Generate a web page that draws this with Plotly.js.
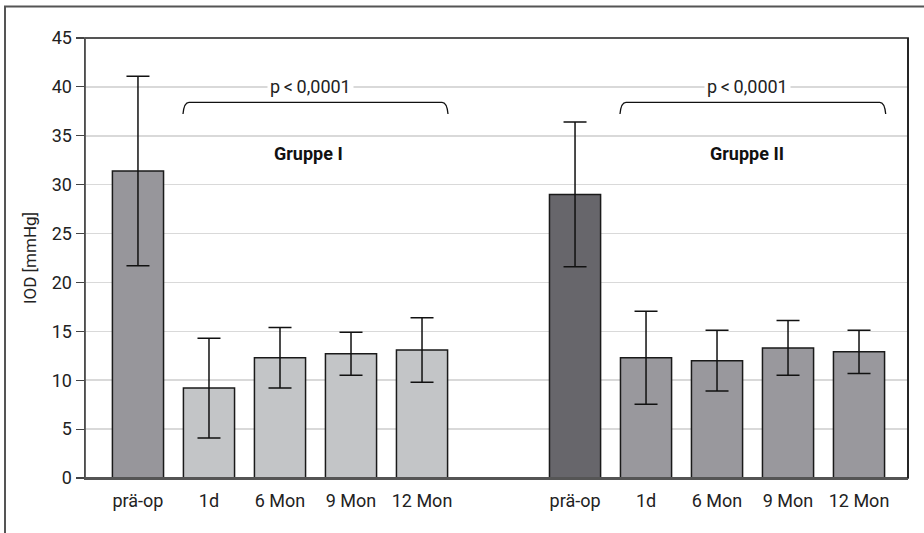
<!DOCTYPE html>
<html>
<head>
<meta charset="utf-8">
<script src="https://cdn.plot.ly/plotly-3.0.1.min.js"></script>
<style>html,body{margin:0;padding:0;background:#fff;}#chart{width:924px;height:533px;}</style>
</head>
<body>
<div id="chart"></div>
<script>
// ---- data ----
const categories = ["prä-op", "1d", "6 Mon", "9 Mon", "12 Mon"];
const group1Mean = [31.4, 9.2, 12.3, 12.7, 13.1];
const group1SD   = [9.7, 5.1, 3.1, 2.2, 3.3];
const group2Mean = [29.0, 12.3, 12.0, 13.3, 12.9];
const group2SD   = [7.4, 4.75, 3.1, 2.8, 2.2];
const groupLabels = ["Gruppe I", "Gruppe II"];
const pText = "p\u2009<\u20090,0001";
const yTitle = "IOD [mmHg]";

// ---- styling ----
const FONT = "Roboto, 'Liberation Sans', Arial, sans-serif";
const W = 924, H = 533;
const M = {l: 85, r: 16, t: 38, b: 55};
const PW = W - M.l - M.r, PH = H - M.t - M.b;
const px = x => (x - M.l) / PW;
const py = y => (H - M.b - y) / PH;
const split = px(498);

const c1 = categories.map((c, i) => i === 0 ? '#97969b' : '#c3c5c7');
const c2 = categories.map((c, i) => i === 0 ? '#67666b' : '#99989d');

function barTrace(means, sds, colors, xa) {
  return {
    type: 'bar', x: categories, y: means, xaxis: xa, yaxis: 'y',
    marker: {color: colors, line: {color: '#1a1a1a', width: 1.5}},
    error_y: {type: 'data', array: sds, visible: true, color: '#111', thickness: 1.5, width: 11.5},
    hoverinfo: 'x+y', showlegend: false
  };
}

const traces = [
  barTrace(group1Mean, group1SD, c1, 'x'),
  barTrace(group2Mean, group2SD, c2, 'x2')
];

function bracket(x0, x1, yTop, yEnd) {
  const r = 6;
  const X = v => px(v), Y = v => py(v);
  return {
    type: 'path', xref: 'paper', yref: 'paper',
    path: `M ${X(x0)},${Y(yEnd)} Q ${X(x0 + 1)},${Y(yTop)} ${X(x0 + r)},${Y(yTop)} L ${X(x1 - r)},${Y(yTop)} Q ${X(x1 - 1)},${Y(yTop)} ${X(x1)},${Y(yEnd)}`,
    line: {color: '#111', width: 1.3}
  };
}

const axisX = {
  type: 'category', showline: true, linecolor: '#555', linewidth: 1.5,
  ticks: '', showgrid: false, zeroline: false, ticklabelstandoff: 6,
  tickfont: {family: FONT, size: 18, color: '#222'}, anchor: 'y'
};

const layout = {
  width: W, height: H,
  margin: {l: M.l, r: M.r, t: M.t, b: M.b, pad: 0},
  paper_bgcolor: '#fff', plot_bgcolor: '#fff',
  font: {family: FONT, size: 18, color: '#222'},
  bargap: 0.28,
  showlegend: false,
  xaxis: Object.assign({}, axisX, {domain: [0, split], range: [-0.746, 5.07]}),
  xaxis2: Object.assign({}, axisX, {domain: [split, 1], range: [-1.085, 4.69]}),
  yaxis: {
    range: [0, 45], dtick: 5, tick0: 0,
    showline: true, linecolor: '#000', linewidth: 1.5,
    ticks: 'outside', ticklen: 8, tickcolor: '#444', tickwidth: 1.2,
    showgrid: true, gridcolor: '#d9d9d9', gridwidth: 1.5, zeroline: false,
    tickfont: {family: FONT, size: 18, color: '#222'},
    title: {text: yTitle, font: {family: FONT, size: 17, color: '#222'}, standoff: 10}
  },
  shapes: [
    {type: 'rect', xref: 'paper', yref: 'paper', x0: 0, x1: 1, y0: 0, y1: 1,
     line: {color: '#555', width: 1.8}, layer: 'above'},
    {type: 'line', xref: 'paper', yref: 'paper', x0: 1, x1: 1, y0: 0, y1: 1,
     line: {color: '#111', width: 1.5}, layer: 'above'},
    {type: 'rect', xref: 'paper', yref: 'paper', x0: px(5), x1: px(1000), y0: py(700), y1: py(6.5),
     line: {color: '#555', width: 2}, layer: 'below'},
    bracket(183, 448, 102.3, 114),
    bracket(620, 885.7, 102.3, 114)
  ],
  annotations: [
    {xref: 'paper', yref: 'y', x: px(310), y: 40, text: pText, showarrow: false,
     bgcolor: '#fff', borderpad: 2, font: {family: FONT, size: 18, color: '#222'}, xanchor: 'center', yanchor: 'middle'},
    {xref: 'paper', yref: 'y', x: px(747), y: 40, text: pText, showarrow: false,
     bgcolor: '#fff', borderpad: 2, font: {family: FONT, size: 18, color: '#222'}, xanchor: 'center', yanchor: 'middle'},
    {xref: 'paper', yref: 'paper', x: px(308), y: py(153), text: '<b>' + groupLabels[0] + '</b>', showarrow: false,
     font: {family: FONT, size: 18, color: '#111'}, xanchor: 'center', yanchor: 'middle'},
    {xref: 'paper', yref: 'paper', x: px(747), y: py(153), text: '<b>' + groupLabels[1] + '</b>', showarrow: false,
     font: {family: FONT, size: 18, color: '#111'}, xanchor: 'center', yanchor: 'middle'}
  ]
};

Plotly.newPlot('chart', traces, layout, {displayModeBar: false, staticPlot: true});
</script>
</body>
</html>
